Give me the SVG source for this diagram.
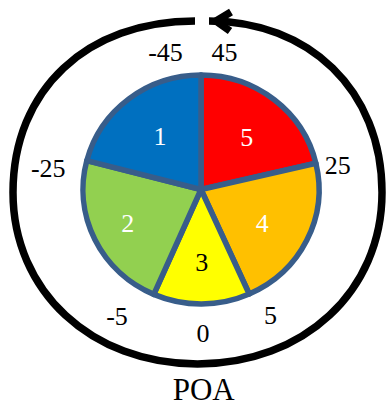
<svg xmlns="http://www.w3.org/2000/svg" width="387" height="407" viewBox="0 0 387 407">
<style>
.slice{stroke:#385D8A;stroke-width:5.5;stroke-linejoin:round}
.lbl{font-family:"Liberation Serif","Times New Roman",serif;font-size:26px;text-anchor:middle;fill:#000}
.in{font-family:"Liberation Serif","Times New Roman",serif;font-size:26px;text-anchor:middle}
.ring{fill:none;stroke:#000;stroke-width:7.5}
</style>
<rect width="387" height="407" fill="#fff"/>
<g id="connectors">
<path class="ring" d="M209,21 C308.2,21 382,89.6 382,192.5 C382,291.1 303.6,364 197.5,364 C91.4,364 13,291.1 13,192.5 C13,89.6 86.8,21 195,21"/>
<polyline class="ring" stroke-linejoin="miter" stroke-miterlimit="10" points="231,12 216,21 230,31"/>
</g>
<g id="slice5"><path class="slice" fill="#FF0000" d="M201,189.5 L201,75 A118,114.5 0 0 1 315.9,163.3 Z"/><text class="in" x="246.7" y="146" fill="#fff">5</text></g>
<g id="slice4"><path class="slice" fill="#FFC000" d="M201,189.5 L315.9,163.3 A118,114.5 0 0 1 249.2,294 Z"/><text class="in" x="262.3" y="232" fill="#fff">4</text></g>
<g id="slice3"><path class="slice" fill="#FFFF00" d="M201,189.5 L249.2,294 A118,114.5 0 0 1 153.8,294.4 Z"/><text class="in" x="201.7" y="271" fill="#000">3</text></g>
<g id="slice2"><path class="slice" fill="#92D050" d="M201,189.5 L153.8,294.4 A118,114.5 0 0 1 86.8,160.6 Z"/><text class="in" x="127.7" y="232.3" fill="#fff">2</text></g>
<g id="slice1"><path class="slice" fill="#0070C0" d="M201,189.5 L86.8,160.6 A118,114.5 0 0 1 201,75 Z"/><text class="in" x="160" y="145" fill="#fff">1</text></g>
<g id="labels">
<text class="lbl" x="165.5" y="61">-45</text>
<text class="lbl" x="224.5" y="61">45</text>
<text class="lbl" x="48.3" y="176.7">-25</text>
<text class="lbl" x="337.8" y="174.3">25</text>
<text class="lbl" x="117" y="325">-5</text>
<text class="lbl" x="203" y="342">0</text>
<text class="lbl" x="270.5" y="324">5</text>
<text class="lbl" x="203.7" y="400" style="font-size:31px">POA</text>
</g>
</svg>
